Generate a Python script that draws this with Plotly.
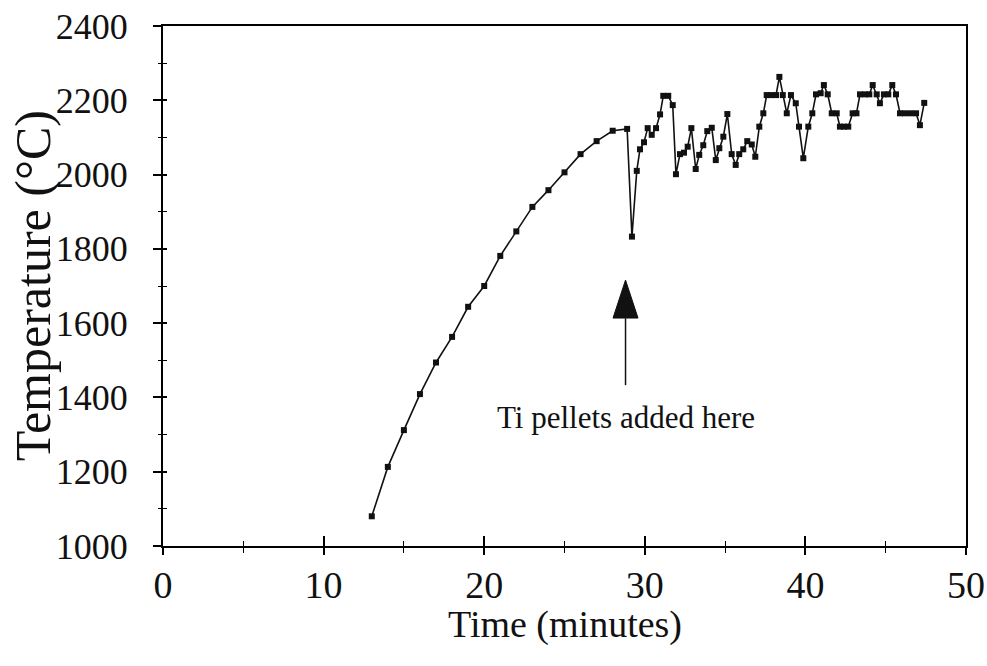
import plotly.graph_objects as go

time_min = [13.0, 14.0, 15.0, 16.0, 17.0, 18.0, 19.0, 20.0, 21.0, 22.0, 23.0, 24.0, 25.0, 26.0,
            27.0, 28.0, 28.9, 29.2, 29.5, 29.7, 29.95, 30.18, 30.43, 30.7, 30.95, 31.15, 31.46,
            31.74, 31.94, 32.19, 32.44, 32.67, 32.9, 33.17, 33.39, 33.64, 33.89, 34.17, 34.42,
            34.64, 34.89, 35.14, 35.41, 35.66, 35.88, 36.13, 36.38, 36.66, 36.88, 37.13, 37.38,
            37.59, 37.86, 38.17, 38.38, 38.59, 38.84, 39.1, 39.4, 39.6, 39.87, 40.18, 40.43,
            40.66, 40.95, 41.15, 41.39, 41.64, 41.95, 42.15, 42.4, 42.67, 42.94, 43.18, 43.4,
            43.71, 43.98, 44.19, 44.44, 44.64, 44.89, 45.16, 45.41, 45.64, 45.89, 46.2, 46.55,
            46.89, 47.13, 47.4]
temp_c = [1080, 1213, 1312, 1409, 1494, 1563, 1644, 1700, 1781, 1847, 1913, 1958, 2006, 2055,
          2090, 2118, 2123, 1833, 2010, 2068, 2087, 2125, 2107, 2125, 2162, 2212, 2212,
          2187, 2001, 2055, 2059, 2075, 2125, 2015, 2053, 2079, 2117, 2126, 2039,
          2071, 2102, 2163, 2055, 2026, 2055, 2068, 2090, 2081, 2048, 2129, 2165,
          2214, 2214, 2214, 2263, 2214, 2165, 2214, 2192, 2129, 2044, 2129, 2165,
          2216, 2219, 2241, 2216, 2165, 2165, 2129, 2129, 2129, 2165, 2165, 2216,
          2216, 2216, 2241, 2216, 2192, 2216, 2216, 2241, 2216, 2165, 2165, 2165,
          2165, 2133, 2193]

x_ticks = [0, 10, 20, 30, 40, 50]
y_ticks = [1000, 1200, 1400, 1600, 1800, 2000, 2200, 2400]

arrow_t = 28.8
arrow_tip = 1716
arrow_head_base = 1613
arrow_tail = 1433
note_temp = 1345
note_text = "Ti pellets added here"
x_title = "Time (minutes)"
y_title = "Temperature (°C)"

SERIF = "Liberation Serif, Times New Roman, serif"

fig = go.Figure()
fig.add_trace(go.Scatter(
    x=time_min, y=temp_c, mode="lines+markers",
    line=dict(color="#111111", width=1.6),
    marker=dict(symbol="square", size=6, color="#111111"),
    showlegend=False,
))

# overlay axes for inside tick halves (crossing ticks)
fig.add_trace(go.Scatter(x=[None], y=[None], xaxis="x2", yaxis="y2", showlegend=False))

axis_common = dict(showgrid=False, zeroline=False, linecolor="black", linewidth=2,
                   automargin=False)

fig.update_layout(
    width=987, height=666,
    margin=dict(l=163, r=21, t=26, b=120),
    plot_bgcolor="white", paper_bgcolor="white",
    font=dict(family=SERIF, color="#111111"),
    xaxis=dict(range=[0, 50], tickvals=x_ticks, ticks="outside", ticklen=7, tickwidth=1.5,
               tickcolor="black", minor=dict(dtick=5, tick0=0, ticks="outside", ticklen=5,
                                             tickwidth=1.2, tickcolor="black"),
               tickfont=dict(size=38, family=SERIF), ticklabelstandoff=-3,
               mirror=True, **axis_common),
    yaxis=dict(range=[1000, 2400], tickvals=y_ticks, ticks="outside", ticklen=8, tickwidth=1.5,
               tickcolor="black", minor=dict(dtick=100, tick0=1000, ticks="outside", ticklen=3,
                                             tickwidth=1.2, tickcolor="black"),
               tickfont=dict(size=36, family=SERIF), ticklabelstandoff=18,
               mirror=True, **axis_common),
    xaxis2=dict(overlaying="x", matches="x", anchor="y2", side="bottom", range=[0, 50],
                tickvals=x_ticks, ticks="inside", ticklen=10, tickwidth=1.5, tickcolor="black",
                minor=dict(dtick=5, tick0=0, ticks="inside", ticklen=5, tickwidth=1.2,
                           tickcolor="black"),
                showticklabels=False, showgrid=False, zeroline=False, showline=False,
                automargin=False),
    yaxis2=dict(overlaying="y", matches="y", anchor="x2", side="left", range=[1000, 2400],
                tickvals=y_ticks, ticks="inside", ticklen=4, tickwidth=1.5, tickcolor="black",
                minor=dict(dtick=100, tick0=1000, ticks="inside", ticklen=4, tickwidth=1.2,
                           tickcolor="black"),
                showticklabels=False, showgrid=False, zeroline=False, showline=False,
                automargin=False),
)

# axis titles
fig.add_annotation(xref="paper", yref="paper", x=0.5, y=-0.15, text=x_title, showarrow=False,
                   font=dict(size=38, family=SERIF, color="#111111"),
                   xanchor="center", yanchor="middle")
fig.add_annotation(xref="paper", yref="paper", x=-0.1617, y=0.5, text=y_title, showarrow=False,
                   textangle=-90, font=dict(size=50, family=SERIF, color="#111111"),
                   xanchor="center", yanchor="middle")

# arrow shaft
fig.add_shape(type="line", x0=arrow_t, x1=arrow_t, y0=arrow_tail, y1=arrow_head_base,
              line=dict(color="#111111", width=1.5))
# arrow head (pixel-sized triangle anchored at tip)
fig.add_shape(type="path", xsizemode="pixel", ysizemode="pixel",
              xanchor=arrow_t, yanchor=arrow_tip,
              path="M0,0 L-12.5,-38 L12.5,-38 Z",
              fillcolor="#111111", line=dict(color="#111111", width=1))

fig.add_annotation(x=arrow_t, y=note_temp, text=note_text, showarrow=False,
                   font=dict(size=31, family=SERIF, color="#111111"), xanchor="center",
                   yanchor="middle")

fig.write_html("out.html")
